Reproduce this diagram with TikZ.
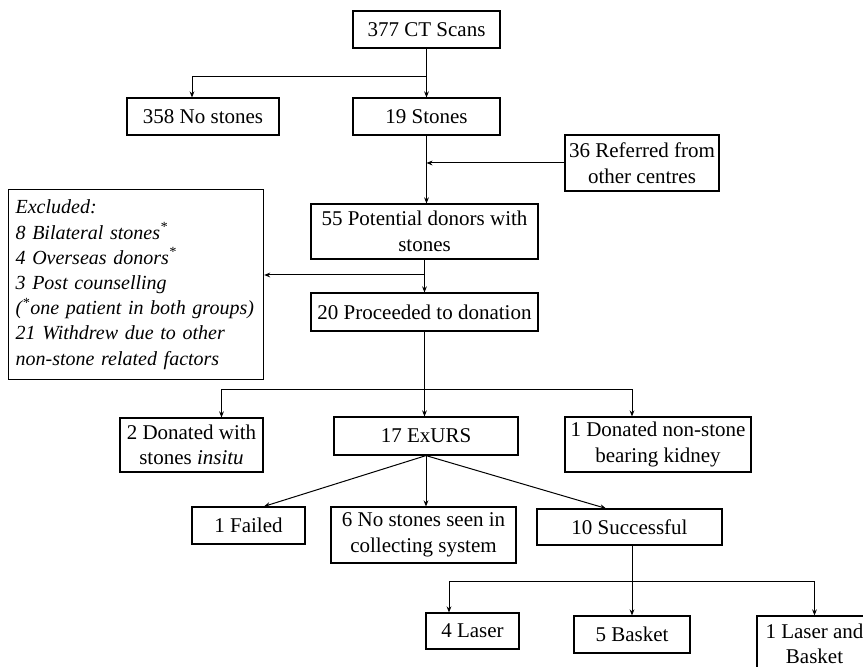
\documentclass[tikz,border=0pt]{standalone}
\usepackage{fontspec}
\setmainfont{Liberation Serif}
\usetikzlibrary{arrows.meta}
\tikzset{
box/.style={draw,line width=0.6pt,align=center,inner sep=2pt,font=\fontsize{10.5}{12.8}\selectfont},
arr/.style={-{Stealth[length=3pt,width=2.4pt]},line width=0.5pt},
}
\begin{document}
\begin{tikzpicture}[x=0.5pt,y=-0.5pt]
\useasboundingbox(0,0)rectangle(863,667);
\clip(0,0)rectangle(863,667);
%top
\node[box,minimum width=73.5pt,minimum height=18.5pt](ct)at(426.5,29.5){377 CT Scans};
\node[box,minimum width=76pt,minimum height=18.5pt](nostones)at(203,116.5){358 No stones};
\node[box,minimum width=73.5pt,minimum height=18.5pt](stones)at(426.5,116.5){19 Stones};
\node[box,minimum width=77pt,minimum height=28pt](referred)at(642,163){36 Referred from\\other centres};
\node[box,minimum width=113.5pt,minimum height=27.5pt](potential)at(424.5,231.5){55 Potential donors with\\stones};
\node[box,anchor=north west,align=left,inner xsep=3.5pt,text width=120.5pt,minimum height=95pt,font=\fontsize{10}{12.6}\selectfont\itshape](excluded)at(8,189){Excluded:\\8 Bilateral stones\textsuperscript{*}\\4 Overseas donors\textsuperscript{*}\\3 Post counselling\\(\textsuperscript{*}one patient in both groups)\\21 Withdrew due to other\\non-stone related factors};
\node[box,minimum width=113.5pt,minimum height=19pt](proceeded)at(424.5,312){20 Proceeded to donation};
%donation
\node[box,minimum width=71.5pt,minimum height=27pt](insitu)at(191.5,445){2 Donated with\\stones \textit{insitu}};
\node[box,minimum width=92pt,minimum height=19pt](exurs)at(426,436){17 ExURS};
\node[box,minimum width=93pt,minimum height=27.5pt](nonstone)at(658,444.5){1 Donated non-stone\\bearing kidney};
%exurs
\node[box,minimum width=56.5pt,minimum height=18.5pt](failed)at(248.5,525.5){1 Failed};
\node[box,minimum width=92.5pt,minimum height=28pt](noseen)at(423.5,535){6 No stones seen in\\collecting system};
\node[box,minimum width=92.5pt,minimum height=18pt](successful)at(629.5,527){10 Successful};
%successful
\node[box,minimum width=46.5pt,minimum height=18pt](laser)at(472.5,631){4 Laser};
\node[box,minimum width=58pt,minimum height=18.5pt](basket)at(632,634.5){5 Basket};
\node[box,minimum width=57.5pt,minimum height=28pt](laserbasket)at(814.5,644){1 Laser and\\Basket};
%arrows
\coordinate(a1)at(426.5,77);
\draw[arr](ct)--(stones);
\draw[arr](a1)-|([xshift=-5.5pt]nostones.north);
\draw[arr](stones)--(stones|-potential.north);
\draw[arr](referred)--(referred-|stones);
\draw[arr](potential)--(proceeded);
\coordinate(a2)at(424.5,275);
\draw[arr](a2)--(a2-|excluded.east);
\coordinate(a3)at(424.5,390);
\draw(proceeded)--(a3);
\draw[arr](a3)--(a3|-exurs.north);
\draw[arr](a3)-|([xshift=15pt]insitu.north);
\draw[arr](a3)-|([xshift=-13pt]nonstone.north);
\draw[arr](exurs.south)--([xshift=7.75pt]failed.north);
\draw[arr](exurs.south)--(exurs.south|-noseen.north);
\draw[arr](exurs.south)--([xshift=-11.75pt]successful.north);
\coordinate(a4)at(632,582);
\draw(successful.south-|a4)--(a4);
\draw[arr](a4)--(basket);
\draw[arr](a4)-|([xshift=-11.75pt]laser.north);
\draw[arr](a4)-|(laserbasket);
\end{tikzpicture}
\end{document}
